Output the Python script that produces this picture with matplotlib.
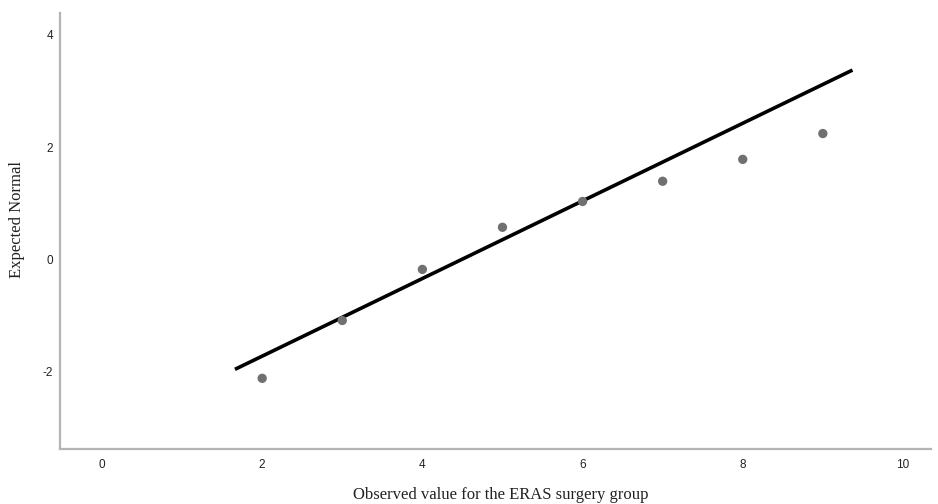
import numpy as np
import matplotlib
matplotlib.use("Agg")
import matplotlib.pyplot as plt

plt.rcParams["axes.unicode_minus"] = False

# observed values and expected normal scores (Q-Q plot)
observed = [2, 3, 4, 5, 6, 7, 8, 9]
expected = [-2.12, -1.09, -0.18, 0.57, 1.03, 1.39, 1.78, 2.24]

# reference line endpoints
line_x = [1.66, 9.37]
line_y = [-1.96, 3.37]

fig = plt.figure(figsize=(9.38, 5.04), dpi=100)
ax = fig.add_axes([0.064, 0.109, 0.9285, 0.865])

ax.plot(line_x, line_y, color="black", lw=2.6, solid_capstyle="butt", zorder=2)
ax.scatter(observed, expected, s=45, color="#707070", edgecolors="none", zorder=3)

ax.set_xlim(-0.524, 10.35)
ax.set_ylim(-3.38, 4.385)
ax.set_xticks([0, 2, 4, 6, 8, 10])
ax.set_yticks([-2, 0, 2, 4])
ax.tick_params(length=0, labelsize=8.5, labelcolor="#222222")
ax.tick_params(axis="x", pad=7)
ax.tick_params(axis="y", pad=5)
for lab in ax.get_xticklabels() + ax.get_yticklabels():
    lab.set_family("Liberation Sans")

for side in ["top", "right"]:
    ax.spines[side].set_visible(False)
for side in ["left", "bottom"]:
    ax.spines[side].set_color("#b4b4b4")
    ax.spines[side].set_linewidth(1.6)

fig.text(501 / 938, 1 - 495 / 504, "Observed value for the ERAS surgery group",
         family="Liberation Serif", fontsize=12, ha="center", va="center",
         color="#222222")
fig.text(17 / 938, 1 - 220 / 504, "Expected Normal", family="Liberation Serif",
         fontsize=12, ha="center", va="center", rotation=90, color="#222222")

fig.savefig("out.png", dpi=100)
